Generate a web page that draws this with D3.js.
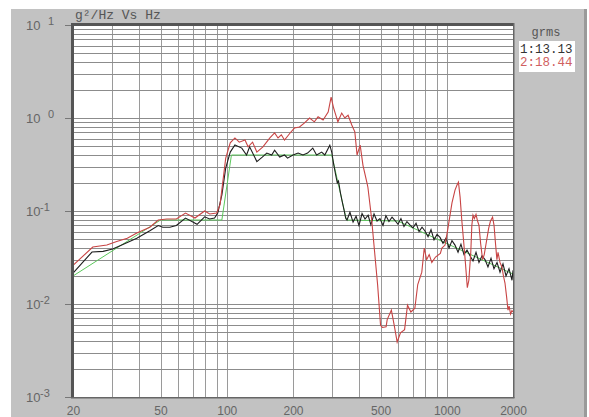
<!DOCTYPE html>
<html>
<head>
<meta charset="utf-8">
<script src="https://cdn.jsdelivr.net/npm/d3@7"></script>
<style>
body { margin: 0; background: #fff; }
svg { display: block; }
</style>
</head>
<body>
<svg width="589" height="417"></svg>
<script>
// reference profile (green)
var refFreq  = [20, 50, 95, 105, 300, 350, 600, 2000];
var refLevel = [0.02, 0.08, 0.08, 0.4, 0.4, 0.08, 0.078, 0.021];

// channel 1 (black)
var ch1Freq = [20, 24.4, 27.4, 30.3, 33.7, 39, 44.7, 48.8, 51.2, 55.1, 59, 64.9, 73.3, 79.3, 83.6, 88, 91, 95, 98.9,
    103.7, 108.9, 117, 123, 127, 137, 145, 152, 160, 165, 174, 183, 189, 200, 211, 222, 233, 246, 256, 270, 279, 294,
    300, 306, 312, 318, 322, 328, 335, 342, 347,
    352, 363, 375, 387, 399, 412, 425, 439, 452, 467, 482, 497, 513, 529, 546, 564, 582, 600, 619, 639, 659, 680,
    702, 725, 748, 772, 796, 822, 848, 875, 903, 932, 961, 992, 1024, 1056, 1090, 1125, 1160, 1197, 1236, 1275,
    1316, 1358, 1401, 1446, 1492, 1539, 1589, 1639, 1692, 1746, 1801, 1859, 1918, 1979, 2000];
var ch1Level = [0.0215, 0.0362, 0.0368, 0.039, 0.0437, 0.051, 0.0614, 0.0697, 0.067, 0.067, 0.070, 0.084, 0.072, 0.0865, 0.082, 0.084, 0.095, 0.149, 0.29,
    0.43, 0.513, 0.475, 0.40, 0.49, 0.34, 0.38, 0.42, 0.40, 0.45, 0.38, 0.40, 0.37, 0.40, 0.42, 0.40, 0.42, 0.475, 0.40, 0.43, 0.40, 0.51,
    0.43, 0.32, 0.25, 0.20, 0.21, 0.16, 0.125, 0.10, 0.084,
    0.080, 0.097, 0.076, 0.088, 0.070, 0.094, 0.082, 0.090, 0.071, 0.093, 0.078, 0.083, 0.070, 0.089, 0.077, 0.086, 0.079, 0.072, 0.083, 0.068, 0.077, 0.071,
    0.066, 0.074, 0.060, 0.067, 0.061, 0.053, 0.063, 0.049, 0.056, 0.052, 0.045, 0.051, 0.040, 0.048, 0.043, 0.036, 0.044, 0.034, 0.038, 0.033,
    0.029, 0.036, 0.028, 0.033, 0.030, 0.025, 0.031, 0.024, 0.028, 0.022, 0.027, 0.020, 0.024, 0.018, 0.023];

// channel 2 (red)
var ch2Freq = [20, 24.6, 28.5, 31.6, 35.3, 39, 44.7, 48.8, 53.4, 59, 64.9, 71.7, 79.3, 83.6, 90, 93.2, 98.9,
    103.7, 108.9, 114, 121, 125, 131, 137, 146, 157, 165, 171, 177, 183, 194, 203, 214, 225, 238, 250, 260, 274, 289, 298,
    306, 311, 320, 333, 344, 356, 370, 382, 391, 404, 416, 433, 438, 455, 470, 485, 500, 510, 530, 536, 560, 577, 595,
    616, 643, 663, 687, 716, 738, 770, 790, 810, 832, 855, 889, 935, 950, 982, 1013, 1056, 1090, 1113, 1130, 1150,
    1170, 1195, 1215, 1240, 1260, 1285, 1300, 1316, 1335, 1358, 1380, 1401, 1425, 1455, 1480, 1510, 1550, 1580, 1615,
    1640, 1665, 1690, 1710, 1745, 1780, 1810, 1839, 1870, 1898, 1920, 1950, 1978, 2000];
var ch2Level = [0.026, 0.041, 0.043, 0.047, 0.051, 0.058, 0.067, 0.080, 0.082, 0.082, 0.095, 0.084, 0.100, 0.093, 0.095, 0.117, 0.37,
    0.54, 0.61, 0.55, 0.58, 0.49, 0.55, 0.43, 0.49, 0.61, 0.69, 0.61, 0.66, 0.58, 0.69, 0.78, 0.80, 0.88, 1.0, 0.91, 1.03, 0.95, 1.16, 1.68,
    1.28, 1.13, 0.91, 1.13, 1.0, 1.07, 0.84, 0.71, 0.40, 0.51, 0.31, 0.205, 0.18, 0.084, 0.036, 0.016, 0.0059, 0.0056, 0.0057, 0.0068, 0.0086, 0.0059, 0.0039,
    0.0049, 0.0053, 0.0097, 0.0082, 0.0090, 0.0162, 0.022, 0.040, 0.030, 0.034, 0.028, 0.032, 0.035, 0.040, 0.043, 0.066, 0.122, 0.168, 0.19, 0.204, 0.14,
    0.08, 0.045, 0.028, 0.015, 0.018, 0.035, 0.07, 0.09, 0.083, 0.092, 0.078, 0.07, 0.045, 0.03, 0.034, 0.045, 0.065, 0.078, 0.086,
    0.07, 0.045, 0.03, 0.036, 0.028, 0.025, 0.02, 0.0168, 0.012, 0.0086, 0.0095, 0.0078, 0.0085, 0.0082];

var xTickLabels = [20, 50, 100, 200, 500, 1000, 2000];
var yTickExps = [1, 0, -1, -2, -3];
var legendTitle = "grms";
var legendLines = ["1:13.13", "2:18.44"];
var titleText = "g\u00b2/Hz Vs Hz";

var svg = d3.select("svg");
// plot box edges (note: "top" is a reserved window property, so prefixed names)
var plotLeft = 73, plotRight = 513, plotTop = 25, plotBottom = 397;

var x = d3.scaleLog().domain([20, 2000]).range([plotLeft, plotRight]);
var y = d3.scaleLog().domain([0.001, 10]).range([plotBottom, plotTop]);

// panel background
svg.append("rect").attr("x", 11).attr("y", 9).attr("width", 575).attr("height", 408).attr("fill", "#c2c2c2");
svg.append("rect").attr("x", 584).attr("y", 9).attr("width", 3).attr("height", 408).attr("fill", "#9a9a9a");

// plot area
svg.append("rect").attr("x", plotLeft).attr("y", plotTop)
    .attr("width", plotRight - plotLeft).attr("height", plotBottom - plotTop).attr("fill", "#fff");

var grid = svg.append("g").attr("shape-rendering", "crispEdges");
grid.selectAll("line.v")
    .data(x.ticks())
    .enter().append("line")
    .attr("class", "v")
    .attr("x1", function(d) { return Math.round(x(d)) + 0.5; })
    .attr("x2", function(d) { return Math.round(x(d)) + 0.5; })
    .attr("y1", plotTop).attr("y2", plotBottom)
    .attr("stroke", "#9a9a9a");
grid.selectAll("line.h")
    .data(y.ticks())
    .enter().append("line")
    .attr("class", "h")
    .attr("y1", function(d) { return Math.round(y(d)) + 0.5; })
    .attr("y2", function(d) { return Math.round(y(d)) + 0.5; })
    .attr("x1", plotLeft).attr("x2", plotRight)
    .attr("stroke", "#8c8c8c");

var line = d3.line()
    .x(function(d) { return x(d[0]); })
    .y(function(d) { return y(d[1]); });

svg.append("path").datum(d3.zip(refFreq, refLevel))
    .attr("d", line).attr("fill", "none").attr("stroke", "#5cc85c").attr("stroke-width", 1);
svg.append("path").datum(d3.zip(ch1Freq, ch1Level))
    .attr("d", line).attr("fill", "none").attr("stroke", "#1e1e1e").attr("stroke-width", 1.1);
svg.append("path").datum(d3.zip(ch2Freq, ch2Level))
    .attr("d", line).attr("fill", "none").attr("stroke", "#c84444").attr("stroke-width", 1.1);

// frame
svg.append("rect").attr("x", 71).attr("y", 23).attr("width", 3).attr("height", plotBottom - 23 + 1).attr("fill", "#555");
svg.append("rect").attr("x", 71).attr("y", 23).attr("width", plotRight - 71 + 1).attr("height", 3).attr("fill", "#555");
svg.append("rect").attr("x", plotRight).attr("y", 23).attr("width", 1.5).attr("height", plotBottom - 23 + 1).attr("fill", "#666");
svg.append("rect").attr("x", 71).attr("y", plotBottom).attr("width", plotRight - 71 + 1.5).attr("height", 1.5).attr("fill", "#666");

// y axis ticks
var yAxis = d3.axisLeft(y)
    .tickValues(yTickExps.map(function(e) { return Math.pow(10, e); }))
    .tickSize(6)
    .tickFormat("");
var yg = svg.append("g").attr("transform", "translate(" + (plotLeft - 2) + ",0)").call(yAxis);
yg.select(".domain").remove();
yg.selectAll(".tick line").attr("stroke", "#777");

var ylab = svg.append("g")
    .attr("font-family", "'Liberation Sans', Arial, sans-serif")
    .attr("fill", "#666");
ylab.selectAll("text.base")
    .data(yTickExps)
    .enter().append("text")
    .attr("class", "base")
    .attr("x", 26)
    .attr("y", function(d) { return y(Math.pow(10, d)) + 5; })
    .attr("font-size", 13)
    .text("10");
ylab.selectAll("text.exp")
    .data(yTickExps)
    .enter().append("text")
    .attr("class", "exp")
    .attr("x", function(d) { return d < 0 ? 40 : 48; })
    .attr("y", function(d) { return y(Math.pow(10, d)); })
    .attr("font-size", 11)
    .text(function(d) { return d < 0 ? "-" + (-d) : d; });

// x axis labels
var xAxis = d3.axisBottom(x)
    .tickValues(xTickLabels)
    .tickSize(0)
    .tickPadding(9)
    .tickFormat(d3.format("d"));
var xg = svg.append("g").attr("transform", "translate(0," + plotBottom + ")").call(xAxis);
xg.select(".domain").remove();
xg.selectAll("text")
    .attr("font-family", "'Liberation Sans', Arial, sans-serif")
    .attr("font-size", 12)
    .attr("fill", "#666");

// title
svg.append("text")
    .attr("x", 75).attr("y", 19)
    .attr("font-family", "'Liberation Mono', 'Courier New', monospace")
    .attr("font-size", 13)
    .attr("fill", "#555")
    .text(titleText);

// legend
svg.append("text")
    .attr("x", 546).attr("y", 36)
    .attr("text-anchor", "middle")
    .attr("font-family", "'Liberation Mono', 'Courier New', monospace")
    .attr("font-size", 12)
    .attr("fill", "#555")
    .text(legendTitle);
svg.append("rect").attr("x", 519).attr("y", 41).attr("width", 56).attr("height", 31).attr("fill", "#fff");
svg.selectAll("text.leg")
    .data(legendLines)
    .enter().append("text")
    .attr("class", "leg")
    .attr("x", 520)
    .attr("y", function(d, i) { return 53 + i * 13; })
    .attr("font-family", "'Liberation Mono', 'Courier New', monospace")
    .attr("font-size", 12.5)
    .attr("fill", function(d, i) { return i == 0 ? "#333" : "#d06060"; })
    .text(function(d) { return d; });
</script>
</body>
</html>
